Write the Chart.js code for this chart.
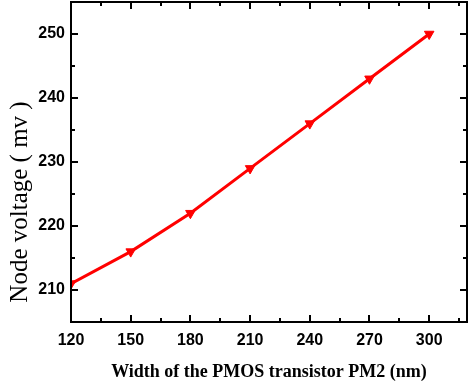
<!DOCTYPE html>
<html>
<head>
<meta charset="utf-8">
<style>
  html, body { margin: 0; padding: 0; background: #fff; }
  #wrap { width: 469px; height: 387px; position: relative; }
</style>
<script src="https://cdn.jsdelivr.net/npm/chart.js@4/dist/chart.umd.min.js"></script>
</head>
<body>
<div id="wrap"><canvas id="c" width="469" height="387"></canvas></div>
<script>
const widths = [120, 150, 180, 210, 240, 270, 300];
const voltages = [211, 216, 222, 229, 236, 243, 250];
const xTickValues = [120, 150, 180, 210, 240, 270, 300];
const yTickValues = [210, 220, 230, 240, 250];
const xMinorValues = [135, 165, 195, 225, 255, 285, 315];
const yMinorValues = [215, 225, 235, 245];
const xTitle = 'Width of the PMOS transistor PM2 (nm)';
const yTitle = 'Node voltage ( mv )';

const framePlugin = {
  id: 'frame',
  afterDatasetsDraw(chart) {
    const { ctx, chartArea: a, scales: { x, y } } = chart;
    ctx.save();
    ctx.strokeStyle = '#000';
    ctx.lineWidth = 2;
    ctx.strokeRect(a.left, a.top, a.right - a.left, a.bottom - a.top);
    const tick = (v, len, horiz) => {
      if (horiz) {
        const px = Math.round(x.getPixelForValue(v));
        ctx.beginPath();
        ctx.moveTo(px, a.bottom); ctx.lineTo(px, a.bottom - len);
        ctx.moveTo(px, a.top); ctx.lineTo(px, a.top + len);
        ctx.stroke();
      } else {
        const py = Math.round(y.getPixelForValue(v));
        ctx.beginPath();
        ctx.moveTo(a.left, py); ctx.lineTo(a.left + len, py);
        ctx.moveTo(a.right, py); ctx.lineTo(a.right - len, py);
        ctx.stroke();
      }
    };
    xTickValues.forEach(v => tick(v, 7, true));
    xMinorValues.forEach(v => tick(v, 4, true));
    yTickValues.forEach(v => tick(v, 7, false));
    yMinorValues.forEach(v => tick(v, 4, false));
    ctx.fillStyle = '#000';
    ctx.font = '25px "Liberation Serif", "Times New Roman", serif';
    ctx.textAlign = 'center';
    ctx.textBaseline = 'middle';
    ctx.translate(20, 202);
    ctx.rotate(-Math.PI / 2);
    ctx.fillText(yTitle, 0, 0);
    ctx.restore();
  }
};

new Chart(document.getElementById('c'), {
  type: 'line',
  data: {
    datasets: [{
      data: widths.map((w, i) => ({ x: w, y: voltages[i] })),
      borderColor: '#ff0000',
      backgroundColor: '#ff0000',
      borderWidth: 3,
      pointStyle: 'triangle',
      rotation: 180,
      pointRadius: 5.5,
      pointBorderWidth: 1,
      tension: 0
    }]
  },
  options: {
    responsive: false,
    animation: false,
    devicePixelRatio: 1,
    layout: { autoPadding: false, padding: { top: 2, right: 2, left: 0, bottom: 0 } },
    plugins: { legend: { display: false }, tooltip: { enabled: false } },
    scales: {
      x: {
        type: 'linear',
        min: 120,
        max: 319,
        afterBuildTicks: s => { s.ticks = xTickValues.map(v => ({ value: v })); },
        afterFit: s => { s.height = 65; s.paddingLeft = 0; s.paddingRight = 0; },
        grid: { display: false, drawTicks: false },
        border: { display: false },
        ticks: {
          color: '#000',
          padding: 9,
          maxRotation: 0,
          font: { family: '"Liberation Sans", Arial, sans-serif', size: 16, weight: 'bold' }
        },
        title: {
          display: true,
          text: xTitle,
          color: '#000',
          font: { family: '"Liberation Serif", "Times New Roman", serif', size: 18, weight: 'bold', lineHeight: 1.2 },
          padding: { top: 0, bottom: 4 }
        }
      },
      y: {
        type: 'linear',
        min: 205,
        max: 255,
        afterBuildTicks: s => { s.ticks = yTickValues.map(v => ({ value: v })); },
        afterFit: s => { s.width = 71; s.paddingTop = 0; s.paddingBottom = 0; },
        grid: { display: false, drawTicks: false },
        border: { display: false },
        ticks: {
          color: '#000',
          padding: 6,
          font: { family: '"Liberation Sans", Arial, sans-serif', size: 16, weight: 'bold' }
        }
      }
    }
  },
  plugins: [framePlugin]
});
</script>
</body>
</html>
